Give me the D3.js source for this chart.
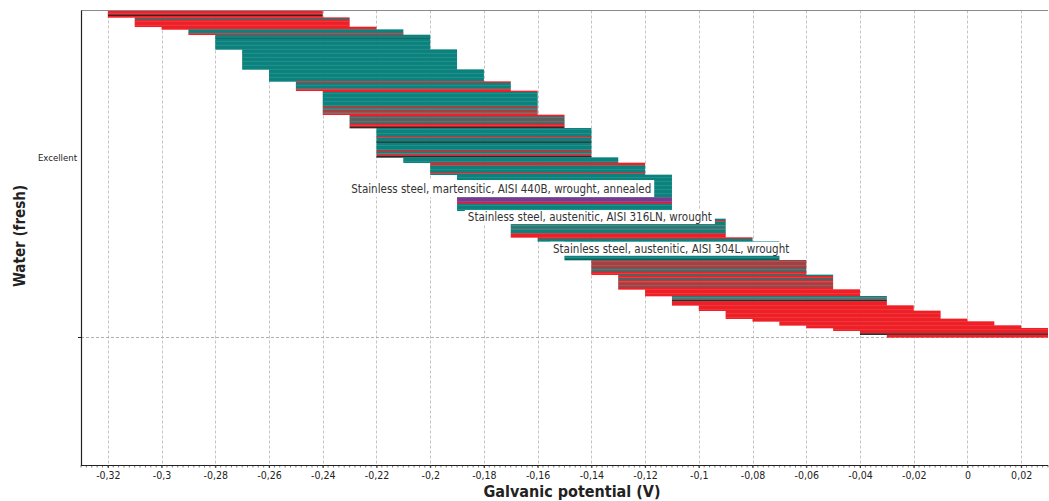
<!DOCTYPE html>
<html>
<head>
<meta charset="utf-8">
<script src="https://cdn.jsdelivr.net/npm/d3@7"></script>
<style>
  html, body { margin: 0; padding: 0; background: #fff; }
  svg { display: block; }
  text { font-family: "DejaVu Sans Condensed", "DejaVu Sans", sans-serif; }
</style>
</head>
<body>
<svg id="chart" width="1049" height="501"></svg>
<script>
// ---------------- data ----------------
// lower end of the galvanic potential range (V) of each group of rows, top to bottom
const blockLow = [-0.32, -0.31, -0.30, -0.29, -0.28, -0.27, -0.26, -0.25, -0.24, -0.23,
                  -0.22, -0.21, -0.20, -0.19, -0.18, -0.17, -0.16, -0.15, -0.14, -0.13,
                  -0.12, -0.11, -0.10, -0.09, -0.08, -0.07, -0.06, -0.05, -0.04, -0.03];
// one letter per material row: R red, T teal, D dark, G grey-teal, K dark teal, P purple (highlighted)
const blockStripes = [
  "RRRDR",
  "RTRRRRR",
  "RR",
  "TTTR",
  "TTKTTTTTTTT",
  "TTTTTTTTTTTTTTT",
  "TTTTTTTTT",
  "RTTTTGR",
  "RTTTTTTTTTTTRGTRGR",
  "RTRTTRTRRD",
  "TTTTTTRTTTDTTTTTTRTGRD",
  "TTTT",
  "RRTTTTTRT",
  "TTTTTTTTTTTTTTTTTPPPPRTTTTT",
  "TTTTTT",
  "TRTTTGTGTTTRRR",
  "RTT",
  "TTTTTTTTTTTTTK",
  "RTRRTRTRTRR",
  "TRRTRGRRTRR",
  "RRRRR",
  "TGGDRRR",
  "RRRR",
  "RRRRRR",
  "RR",
  "RRR",
  "RR",
  "RR",
  "RRD",
  "RR"
];
const rangeSpan = 0.08; // width of every potential range (V)
const xTickValues = [-0.32, -0.30, -0.28, -0.26, -0.24, -0.22, -0.20, -0.18, -0.16, -0.14,
                     -0.12, -0.10, -0.08, -0.06, -0.04, -0.02, 0, 0.02];
const yCategory = "Excellent";
// v: potential at the label's left edge, row: material row at the label's middle
const annotations = [
  { text: "Stainless steel, martensitic, AISI 440B, wrought, annealed", v: -0.2305, row: 133.4, h: 17 },
  { text: "Stainless steel, austenitic, AISI 316LN, wrought", v: -0.1871, row: 154.8, h: 14 },
  { text: "Stainless steel, austenitic, AISI 304L, wrought", v: -0.1554, row: 178.6, h: 14 }
];
const xTitle = "Galvanic potential (V)";
const yTitle = "Water (fresh)";

const colorOf = { R: "#ee2027", T: "#0b827d", D: "#2b2b2b", G: "#5d6e6d", K: "#0a6461", P: "#7b3a8e" };

// ---------------- build rows ----------------
const rows = [];
blockStripes.forEach((s, b) => {
  for (const c of s) rows.push({ lo: blockLow[b], hi: blockLow[b] + rangeSpan, c });
});

// ---------------- layout ----------------
const svg = d3.select("#chart");
const L = 81, R = 1048, T = 10.5, B = 465;
const rowTop = 10.7, rowBottom = 337.3;

const x = d3.scaleLinear().domain([-0.33, 0.03]).range([L, R]);
const y = d3.scaleBand().domain(d3.range(rows.length)).range([rowTop, rowBottom]).paddingInner(0);
const yRow = d3.scaleLinear().domain([0, rows.length]).range([rowTop, rowBottom]);

const loc = d3.formatLocale({ decimal: ",", thousands: ".", grouping: [3], currency: ["", ""], minus: "-" });
const fmt = loc.format(".2~f");

// grid
const grid = svg.append("g");
grid.selectAll("line.v").data(xTickValues).join("line")
  .attr("x1", d => Math.round(x(d)) + 0.5).attr("x2", d => Math.round(x(d)) + 0.5)
  .attr("y1", T).attr("y2", B)
  .attr("stroke", "#c4c4c4").attr("stroke-width", 1).attr("stroke-dasharray", "3,2");
grid.append("line")
  .attr("x1", L).attr("x2", R).attr("y1", 337.5).attr("y2", 337.5)
  .attr("stroke", "#b0b0b0").attr("stroke-dasharray", "3,2");

// bars
const [d0, d1] = x.domain();
svg.append("g").selectAll("rect").data(rows).join("rect")
  .attr("x", d => x(Math.max(d.lo, d0)))
  .attr("width", d => x(Math.min(d.hi, d1)) - x(Math.max(d.lo, d0)))
  .attr("y", (d, i) => y(i))
  .attr("height", y.bandwidth() + 0.35)
  .attr("fill", d => colorOf[d.c]);

// frame
svg.append("line").attr("x1", L).attr("x2", R).attr("y1", T).attr("y2", T)
  .attr("stroke", "#8a8a8a").attr("stroke-width", 1.2);

// x axis
const xAxisG = svg.append("g").attr("transform", `translate(0,${B})`);
const minor = d3.range(0, 181).map(i => -0.33 + i * 0.002);
xAxisG.selectAll("line.minor").data(minor).join("line")
  .attr("x1", d => x(d)).attr("x2", d => x(d)).attr("y1", 0).attr("y2", 2.5)
  .attr("stroke", "#555").attr("stroke-width", 0.8);
xAxisG.call(d3.axisBottom(x).tickValues(xTickValues).tickFormat(fmt).tickSize(3).tickPadding(4))
  .call(g => g.select(".domain").attr("stroke", "#222").attr("stroke-width", 1.2).attr("d", `M${L},0.5H${R}`))
  .call(g => g.selectAll(".tick line").attr("stroke", "#333"))
  .call(g => g.selectAll(".tick text").attr("font-family", "DejaVu Sans Condensed, DejaVu Sans, sans-serif")
    .attr("font-size", 10.5).attr("fill", "#222"));

// y axis
svg.append("line").attr("x1", L + 0.5).attr("x2", L + 0.5).attr("y1", T).attr("y2", B)
  .attr("stroke", "#222").attr("stroke-width", 1.2);
svg.append("line").attr("x1", L - 3).attr("x2", L).attr("y1", 337.5).attr("y2", 337.5).attr("stroke", "#222");
svg.append("text").attr("x", L - 4).attr("y", 158).attr("dy", "0.35em")
  .attr("text-anchor", "end").attr("font-size", 9.5).attr("fill", "#222").text(yCategory);

// titles
svg.append("text").attr("x", 572).attr("y", 497).attr("text-anchor", "middle")
  .attr("font-size", 16).attr("font-weight", "bold").attr("fill", "#222").text(xTitle);
svg.append("text").attr("transform", "translate(25,236) rotate(-90)").attr("text-anchor", "middle")
  .attr("font-size", 15).attr("font-weight", "bold").attr("fill", "#222").text(yTitle);

// annotations
const ann = svg.append("g");
annotations.forEach(a => {
  const g = ann.append("g");
  const cy = yRow(a.row);
  const t = g.append("text").attr("x", x(a.v) + 3).attr("y", cy).attr("dy", "0.36em")
    .attr("font-size", 11.5).attr("fill", "#333").text(a.text);
  const bb = t.node().getBBox();
  g.insert("rect", "text").attr("x", x(a.v)).attr("y", cy - a.h / 2)
    .attr("width", bb.width + 6).attr("height", a.h).attr("fill", "#fff");
});
</script>
</body>
</html>
